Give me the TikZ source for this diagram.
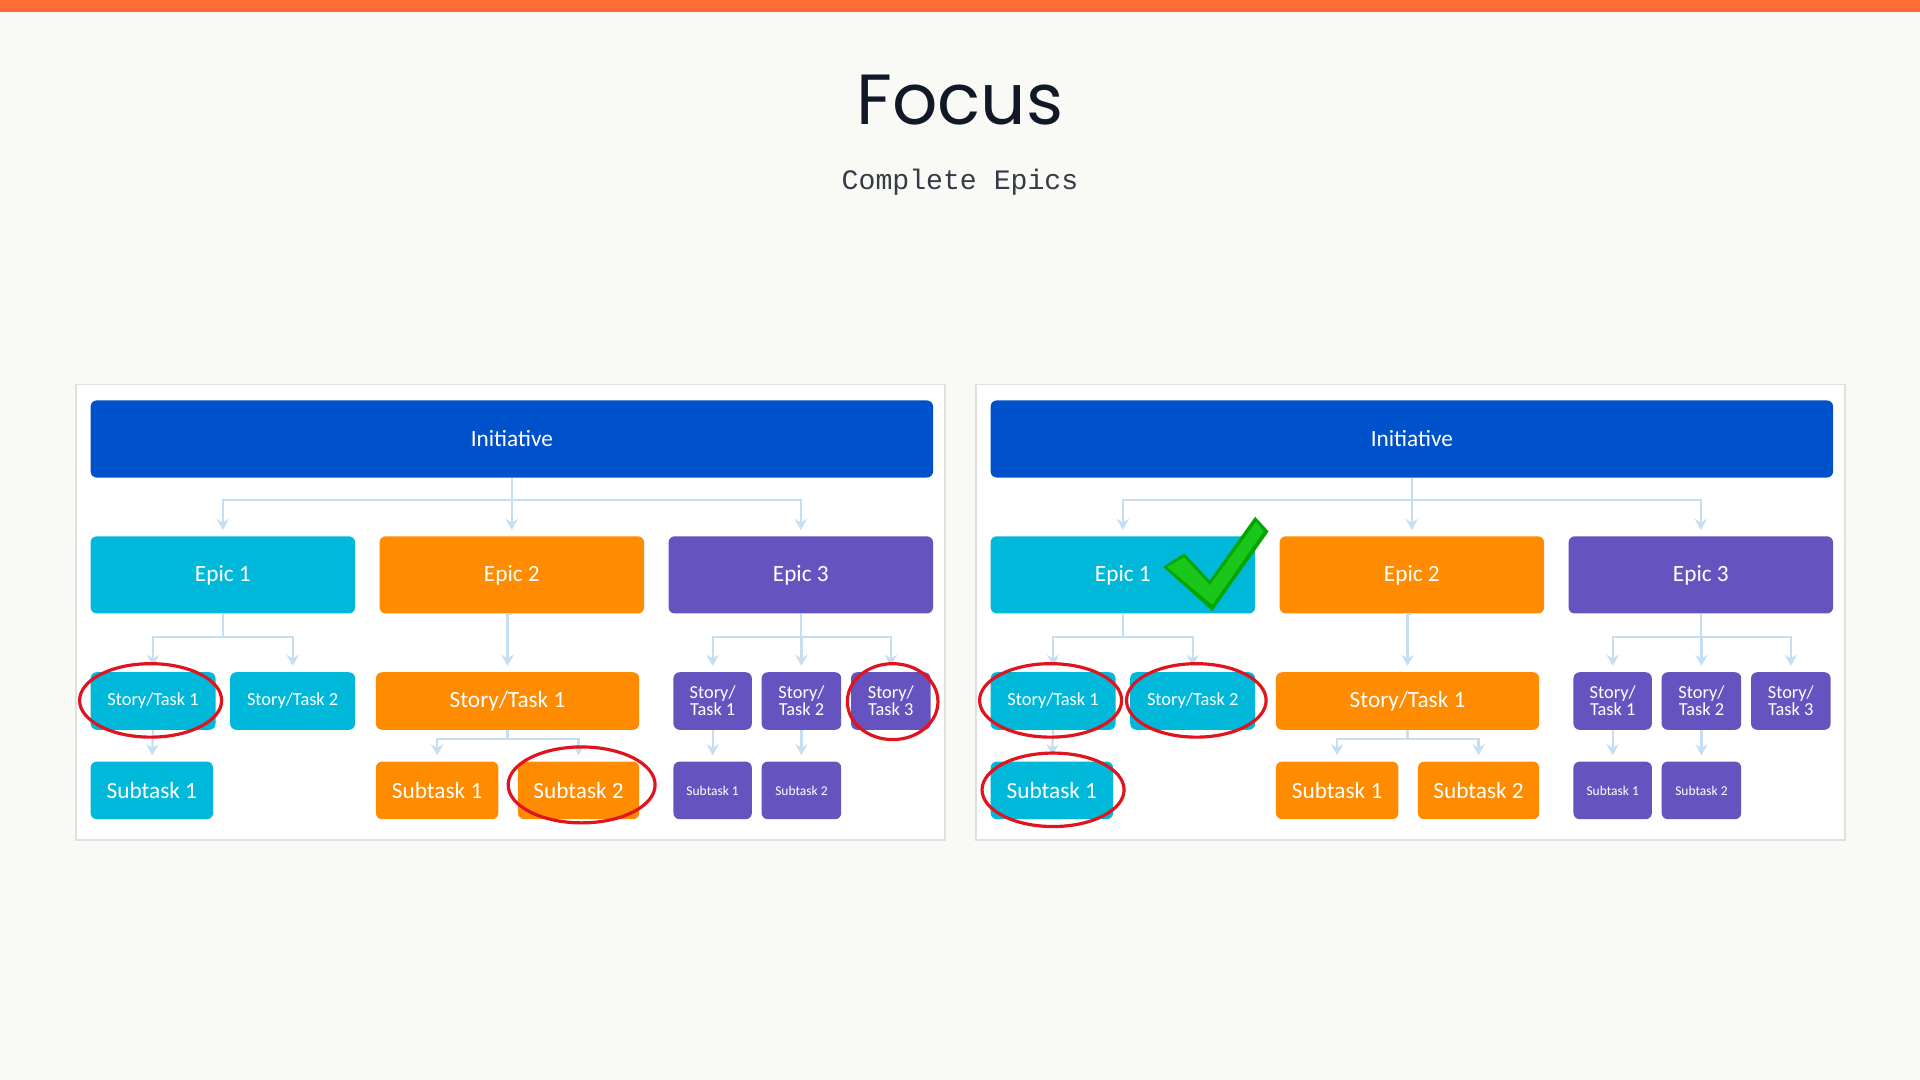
\documentclass[tikz,border=0pt]{standalone}
\usepackage{fontspec}
\setmainfont{Carlito}
\newfontfamily\titlefont{Poppins}
\newfontfamily\monofont{Liberation Mono}
\usetikzlibrary{arrows.meta}
\definecolor{bg}{HTML}{F9F9F5}
\definecolor{topbar}{HTML}{FF6B35}
\definecolor{iblue}{HTML}{0052CC}
\definecolor{icyan}{HTML}{00B8D9}
\definecolor{iorange}{HTML}{FF8B00}
\definecolor{ipurple}{HTML}{6554C0}
\definecolor{conn}{HTML}{C6DEF2}
\definecolor{ired}{HTML}{E0141E}
\definecolor{ink}{HTML}{111827}
\begin{document}
\begin{tikzpicture}[x=1pt,y=-1pt,
  box/.style={rounded corners=5pt,text=white,inner sep=0pt,align=center,font=\fontsize{19}{20}\selectfont},
  small/.style={font=\fontsize{15}{14}\selectfont},
  tiny/.style={font=\fontsize{11}{12}\selectfont},
  ln/.style={draw=conn,line width=1.8pt},
  arr/.style={ln,-{Stealth[length=9pt,width=10pt]},shorten >=5pt},
  ring/.style={draw=ired,line width=2.6pt}]
\useasboundingbox (0,0) rectangle (1568,882);
\fill[bg] (0,0) rectangle (1568,882);
\fill[topbar] (0,0) rectangle (1568,10);
\node[font=\titlefont\fontsize{58}{60}\selectfont,text=ink] (title) at (784,82) {Focus};
\node[font=\monofont\fontsize{23}{24}\selectfont,text=ink!85] (sub) at (784,149) {Complete Epics};
\newcommand\bx[8]{\node[box,fill=#6,minimum width={(#4-#2)*1pt},minimum height={(#5-#3)*1pt},#7] (\p#1) at ({(#2+#4)/2},{(#3+#5)/2}) {#8};}
\newcommand\panel[2]{%
\def\p{#1}%
\begin{scope}[xshift=#2pt]
\draw[draw=black!12,fill=white,line width=1.5pt] (62,314) rectangle (772,686);
\bx{init}{74}{327}{762}{390}{iblue}{}{Initiative}
\bx{e1}{74}{438}{290}{501}{icyan}{}{Epic 1}
\bx{e2}{310}{438}{526}{501}{iorange}{}{Epic 2}
\bx{e3}{546}{438}{762}{501}{ipurple}{}{Epic 3}
\bx{s11}{74}{549}{176}{596}{icyan}{small}{Story/Task 1}
\bx{s12}{188}{549}{290}{596}{icyan}{small}{Story/Task 2}
\bx{t11}{74}{622}{174}{669}{icyan}{}{Subtask 1}
\bx{s21}{307}{549}{522}{596}{iorange}{}{Story/Task 1}
\bx{t21}{307}{622}{407}{669}{iorange}{}{Subtask 1}
\bx{t22}{423}{622}{522}{669}{iorange}{}{Subtask 2}
\bx{s31}{550}{549}{614}{596}{ipurple}{small}{Story/\\Task 1}
\bx{s32}{622}{549}{687}{596}{ipurple}{small}{Story/\\Task 2}
\bx{s33}{695}{549}{760}{596}{ipurple}{small}{Story/\\Task 3}
\bx{t31}{550}{622}{614}{669}{ipurple}{tiny}{Subtask 1}
\bx{t32}{622}{622}{687}{669}{ipurple}{tiny}{Subtask 2}
\draw[ln] (#1init.south) -- ++(0,18) coordinate (#1j0);
\draw[arr] (#1j0) -| (#1e1.north);
\draw[arr] (#1j0) -| (#1e2.north);
\draw[arr] (#1j0) -| (#1e3.north);
\draw[ln] (#1e1.south) -- ++(0,19) coordinate (#1j1);
\draw[arr] (#1j1) -| (#1s11.north);
\draw[arr] (#1j1) -| (#1s12.north);
\draw[arr] (#1s11.south) -- (#1t11.north);
\draw[arr] (#1e2.south) -| (#1s21.north);
\draw[ln] (#1s21.south) -- ++(0,7) coordinate (#1j2);
\draw[arr] (#1j2) -| (#1t21.north);
\draw[arr] (#1j2) -| (#1t22.north);
\draw[ln] (#1e3.south) -- ++(0,19) coordinate (#1j3);
\draw[arr] (#1j3) -| (#1s31.north);
\draw[arr] (#1j3) -| (#1s32.north);
\draw[arr] (#1j3) -| (#1s33.north);
\draw[arr] (#1s31.south) -- (#1t31.north);
\draw[arr] (#1s32.south) -- (#1t32.north);
\end{scope}}
\panel{L}{0}
\panel{R}{735}
% red rings
\draw[ring] (123,572) ellipse [x radius=58,y radius=30];
\draw[ring] (475,641) ellipse [x radius=60,y radius=31];
\draw[ring] (729,573) ellipse [x radius=37,y radius=31];
\draw[ring] (858,572) ellipse [x radius=58,y radius=30];
\draw[ring] (977,572) ellipse [x radius=57,y radius=30];
\draw[ring] (860,645) ellipse [x radius=58,y radius=30];
% check mark
\fill[green!65!black] (950,463) -- (967,452) -- (988,474) -- (1025,422) -- (1036,434) -- (990,499) -- cycle;
\fill[green!75!black!90] (953,463) -- (967,455) -- (988,478) -- (1026,426) -- (1032,434) -- (990,494) -- cycle;
\end{tikzpicture}
\end{document}
